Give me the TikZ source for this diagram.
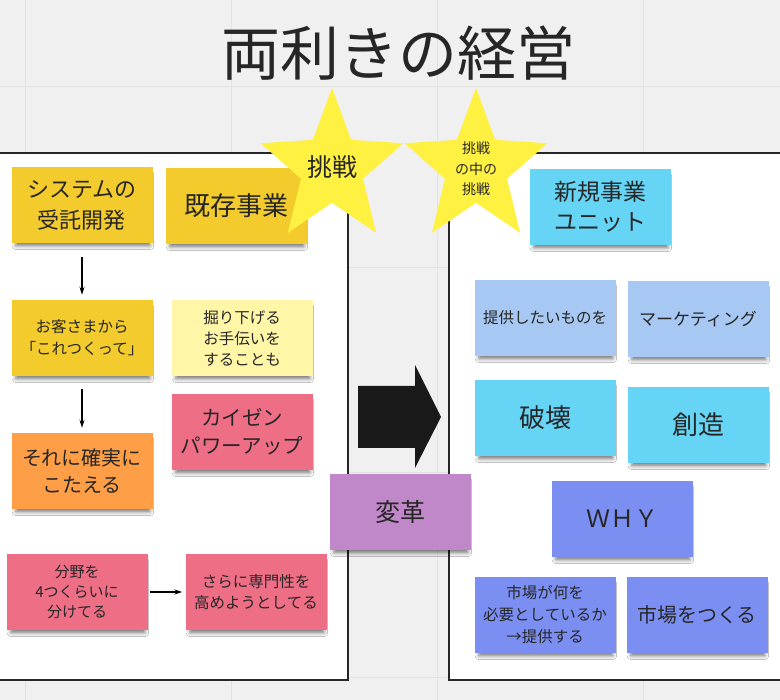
\documentclass[tikz,border=0pt]{standalone}
\usepackage{fontspec}
\setmainfont{Noto Sans CJK JP}
\usetikzlibrary{arrows.meta,shapes.geometric,shadows.blur}

\definecolor{bg}{HTML}{F0F0F0}
\definecolor{gridc}{HTML}{E2E2E2}
\definecolor{txt}{HTML}{262626}
\definecolor{gold}{HTML}{F3CB2D}
\definecolor{pale}{HTML}{FFF6A8}
\definecolor{orng}{HTML}{FE9E46}
\definecolor{pinkn}{HTML}{EE6E86}
\definecolor{sky}{HTML}{66D4F5}
\definecolor{paleblue}{HTML}{A6C8F2}
\definecolor{violet}{HTML}{7B8FF2}
\definecolor{purp}{HTML}{C088C8}
\definecolor{staryel}{HTML}{FFF142}

\newcommand{\fsz}[2]{\fontsize{#1}{#2}\selectfont}

\tikzset{
  note/.style={rectangle, inner sep=0pt, align=center, text=txt,
    minimum width=141pt, minimum height=76pt,
    blur shadow={shadow xshift=1pt, shadow yshift=-5pt, shadow scale=0.95,
      shadow blur radius=4pt, shadow opacity=55}},
  flow/.style={-{Stealth[length=8pt,width=5pt]}, line width=1.4pt},
  panel/.style={draw=black!85, line width=1.6pt, fill=white},
  gridline/.style={gridc, line width=0.8pt},
  bigstar/.style={star, star points=5, star point ratio=2.3,
    minimum size=150pt, inner sep=0pt, fill=staryel, transform shape},
}

\begin{document}
\begin{tikzpicture}[x=1pt,y=-1pt]
\useasboundingbox (0,0) rectangle (780,700);
\fill[bg] (0,0) rectangle (780,700);
\foreach \gx in {25,231,437,643} \draw[gridline] (\gx,0) -- (\gx,700);
\foreach \gy in {86,267,472,677} \draw[gridline] (0,\gy) -- (780,\gy);

\node[text=txt, font=\fsz{59}{64}] (title) at (398,53) {両利きの経営};

\draw[panel] (-5,153) rectangle (348,680);
\draw[panel] (449,153) rectangle (785,680);

% left side
\node[note, fill=gold, font=\fsz{22}{31}] (sys) at (82,205) {システムの\\受託開発};
\node[note, fill=gold, font=\fsz{26}{30}] (kizon) at (236,206) {既存事業};
\node[note, fill=gold, font=\fsz{15.5}{22}] (okyaku) at (82,338) {お客さまから\\「これつくって」};
\node[note, fill=pale, font=\fsz{15.5}{21}] (horisage) at (242,338) {掘り下げる\\お手伝いを\\することも};
\node[note, fill=orng, font=\fsz{20}{27}] (kotaeru) at (82,471) {それに確実に\\こたえる};
\node[note, fill=pinkn, font=\fsz{20.5}{28}] (kaizen) at (242,432) {カイゼン\\パワーアップ};
\node[note, fill=pinkn, font=\fsz{15}{20}] (bunya) at (77,592) {分野を\\4つくらいに\\分けてる};
\node[note, fill=pinkn, font=\fsz{15.5}{21}] (senmon) at (256,592) {さらに専門性を\\高めようとしてる};

\draw[flow, shorten <=14pt, shorten >=5pt] (sys) -- (okyaku);
\draw[flow, shorten <=13pt, shorten >=5pt] (okyaku) -- (kotaeru);
\draw[flow, shorten <=2pt, shorten >=3pt] (bunya) -- (senmon);

% change
\fill[black!90] (358,386) -- (415,386) -- (415,365) -- (441,417)
  -- (415,468) -- (415,448) -- (358,448) -- cycle;
\node[note, fill=purp, font=\fsz{25}{30}] (henkaku) at (400,512) {変革};

% right side
\node[note, fill=sky, font=\fsz{23}{30}] (shinki) at (600,207) {新規事業\\ユニット};
\node[note, fill=paleblue, font=\fsz{15.5}{21}] (teikyo) at (545,318) {提供したいものを};
\node[note, fill=paleblue, font=\fsz{17}{21}] (marketing) at (698,319) {マーケティング};
\node[note, fill=sky, font=\fsz{26}{30}] (hakai) at (545,418) {破壊};
\node[note, fill=sky, font=\fsz{26}{30}] (souzou) at (698,425) {創造};
\node[note, fill=violet, font=\fsz{24}{30}] (why) at (622,519) {ＷＨＹ};
\node[note, fill=violet, font=\fsz{15.5}{22}] (shijou) at (545,615) {市場が何を\\必要としているか\\→提供する};
\node[note, fill=violet, font=\fsz{20}{26}] (tsukuru) at (697,615) {市場をつくる};

% stars
\begin{scope}[shift={(332,168)}, yscale=1.067]
  \node[bigstar] (star1) at (0,0) {};
\end{scope}
\begin{scope}[shift={(476,168)}, yscale=1.067]
  \node[bigstar] (star2) at (0,0) {};
\end{scope}
\node[text=txt, font=\fsz{25}{30}] (chosen) at (332,167) {挑戦};
\node[text=txt, align=center, font=\fsz{14}{20.5}] (chosen2) at (476,169) {挑戦\\の中の\\挑戦};
\end{tikzpicture}
\end{document}
